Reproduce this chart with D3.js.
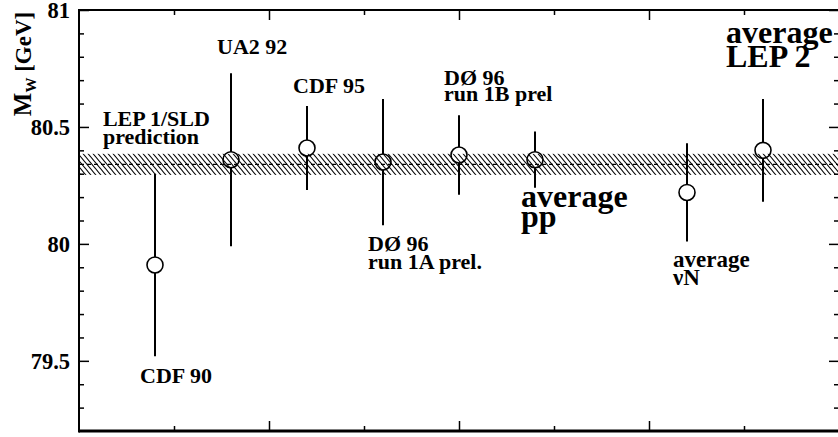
<!DOCTYPE html>
<html>
<head>
<meta charset="utf-8">
<script src="https://cdn.jsdelivr.net/npm/d3@7"></script>
<style>
  body { margin: 0; background: #fff; }
  svg text { font-family: "Liberation Serif", "Times New Roman", Times, serif; font-weight: 700; fill: #000; }
  .axis path { display: none; }
  .axis line { stroke: #000; stroke-width: 1.5; }
</style>
</head>
<body>
<div id="chart"></div>
<script>
// measurements of the W mass (GeV)
const labels = [
  ['CDF 90'],
  ['UA2 92'],
  ['CDF 95'],
  ['DØ 96', 'run 1A prel.'],
  ['DØ 96', 'run 1B prel'],
  ['average', 'pp'],
  ['average', 'νN'],
  ['average', 'LEP 2']
];
const slots = [1, 2, 3, 4, 5, 6, 8, 9];
const mass = [79.91, 80.36, 80.41, 80.35, 80.38, 80.36, 80.22, 80.40];
const errors = [0.39, 0.37, 0.18, 0.27, 0.17, 0.12, 0.21, 0.22];

// LEP 1/SLD prediction band
const bandCenter = 80.34;
const bandHalf = 0.045;
const bandLabel = ['LEP 1/SLD', 'prediction'];

const yMajor = [79.5, 80, 80.5, 81];
const yMinor = [79.3, 79.4, 79.6, 79.7, 79.8, 79.9, 80.1, 80.2, 80.3, 80.4, 80.6, 80.7, 80.8, 80.9];
const xMajor = [2.5, 5, 7.5];
const xMinor = [1.25, 3.75, 6.25, 8.75];

const drawChart = () => {
  const W = 838, H = 437;
  const left = 79, top = 10, right = 839, bottom = 431;

  const svg = d3.select('#chart').append('svg')
    .attr('width', W)
    .attr('height', H);

  const x = d3.scaleLinear().domain([0, 10]).range([left, right]);
  const y = d3.scaleLinear().domain([79.2, 81]).range([bottom, top]);

  // hatch pattern for the band
  const pat = svg.append('defs').append('pattern')
    .attr('id', 'hatch')
    .attr('patternUnits', 'userSpaceOnUse')
    .attr('width', 5)
    .attr('height', 6);
  pat.append('path')
    .attr('d', 'M0,0L5,6M-1,5L1,7M4,-1L6,1')
    .attr('stroke', '#000')
    .attr('stroke-width', 1.1);

  // axes, ticks pointing inwards
  const addAxis = (axis, tx, ty, vals, size, fmt, pad) => {
    svg.append('g')
      .attr('class', 'axis')
      .attr('transform', `translate(${tx},${ty})`)
      .call(axis.tickValues(vals).tickSize(-size).tickPadding(pad || 3).tickFormat(fmt || ''));
  };
  addAxis(d3.axisLeft(y), left, 0, yMajor, 10, d => d, 9);
  addAxis(d3.axisLeft(y), left, 0, yMinor, 5);
  addAxis(d3.axisRight(y), right, 0, yMajor, 10);
  addAxis(d3.axisRight(y), right, 0, yMinor, 5);
  addAxis(d3.axisTop(x), 0, top, xMajor, 10);
  addAxis(d3.axisTop(x), 0, top, xMinor, 5);
  addAxis(d3.axisBottom(x), 0, bottom, xMajor, 10);
  addAxis(d3.axisBottom(x), 0, bottom, xMinor, 5);

  svg.selectAll('.axis text')
    .style('font-size', '22.5px');

  // frame
  svg.append('line').attr('x1', left).attr('x2', right).attr('y1', top).attr('y2', top)
    .attr('stroke', '#000').attr('stroke-width', 2);
  svg.append('line').attr('x1', left).attr('x2', right).attr('y1', bottom).attr('y2', bottom)
    .attr('stroke', '#000').attr('stroke-width', 3);
  svg.append('line').attr('x1', left).attr('x2', left).attr('y1', top - 1).attr('y2', bottom + 1.5)
    .attr('stroke', '#000').attr('stroke-width', 2);

  // y axis title
  const yt = svg.append('text')
    .attr('transform', 'translate(31,64) rotate(-90)')
    .attr('text-anchor', 'middle')
    .style('font-size', '23px');
  yt.append('tspan').style('font-size', '25px').text('M');
  yt.append('tspan').attr('dy', 5).style('font-size', '15px').text('W');
  yt.append('tspan').attr('dy', -5).text(' [GeV]');

  const pts = slots.map((s, i) => ({ s, m: mass[i], e: errors[i], lab: labels[i] }));

  // error bars
  svg.selectAll('.err').data(pts).enter()
    .append('line')
    .attr('class', 'err')
    .attr('x1', d => x(d.s)).attr('x2', d => x(d.s))
    .attr('y1', d => y(d.m + d.e)).attr('y2', d => y(d.m - d.e))
    .attr('stroke', '#000')
    .attr('stroke-width', 2);

  svg.selectAll('.pt').data(pts).enter()
    .append('circle')
    .attr('class', 'pt')
    .attr('cx', d => x(d.s))
    .attr('cy', d => y(d.m))
    .attr('r', 8)
    .attr('fill', '#fff')
    .attr('stroke', '#000')
    .attr('stroke-width', 1.6);

  // band on top
  svg.append('rect')
    .attr('x', left + 1)
    .attr('y', y(bandCenter + bandHalf))
    .attr('width', right - left)
    .attr('height', y(bandCenter - bandHalf) - y(bandCenter + bandHalf))
    .attr('fill', 'url(#hatch)');
  svg.append('line')
    .attr('x1', left + 1).attr('x2', right)
    .attr('y1', y(bandCenter)).attr('y2', y(bandCenter))
    .attr('stroke', '#000')
    .attr('stroke-width', 1.4)
    .attr('stroke-dasharray', '4,3');

  // label layout: offset from the point, font size, line gap
  const layout = [
    { dx: -15, dy: 118, size: 22, gap: 18 },
    { dx: -14, dy: -106, size: 22, gap: 18 },
    { dx: -14, dy: -55, size: 22, gap: 18 },
    { dx: -15, dy: 89, size: 22, gap: 18 },
    { dx: -15, dy: -70, size: 22, gap: 16 },
    { dx: -14, dy: 47, size: 32, gap: 20 },
    { dx: -14, dy: 75, size: 23, gap: 18 },
    { dx: -37, dy: -107, size: 32, gap: 24 }
  ];

  const addLabel = (lines, lx, ly, size, gap) => {
    const t = svg.append('text')
      .attr('x', lx)
      .attr('y', ly)
      .style('font-size', `${size}px`);
    lines.forEach((l, i) => {
      t.append('tspan').attr('x', lx).attr('dy', i ? gap : 0).text(l);
    });
  };

  pts.forEach((d, i) => {
    const L = layout[i];
    addLabel(d.lab, x(d.s) + L.dx, y(d.m) + L.dy, L.size, L.gap);
  });

  addLabel(bandLabel, x(0.315), y(bandCenter) - 38, 22, 18);
};

window.onload = drawChart;
</script>
</body>
</html>
